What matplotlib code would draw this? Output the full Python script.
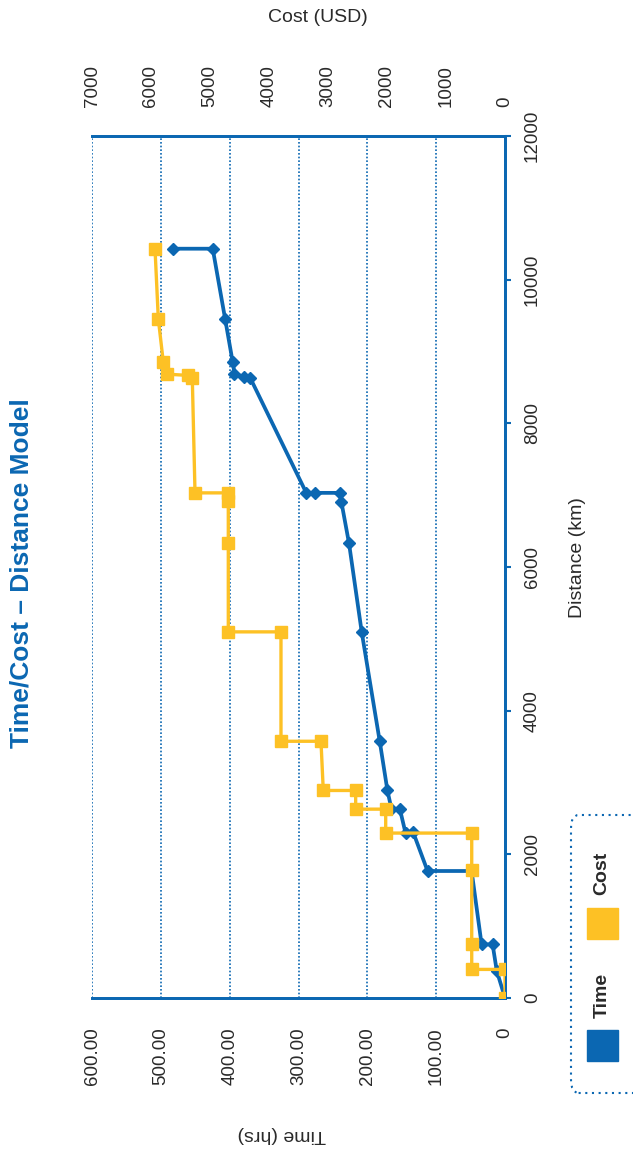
import matplotlib.pyplot as plt
from matplotlib.patches import FancyBboxPatch, Rectangle
from matplotlib.ticker import FuncFormatter

plt.rcParams['font.family'] = ['Liberation Sans', 'DejaVu Sans']

BLUE = '#0b67b2'
YELLOW = '#fdc125'
TXT = '#2a2a2a'

# distance (km) vs time (hrs)
time_dist = [0, 380, 746, 746, 1768, 1768, 2310, 2296, 2634, 2634, 2889, 3574,
             5097, 6329, 6907, 7032, 7032, 7032, 8630, 8649, 8685, 8847, 9454,
             10431, 10431]
time_hrs = [0, 12, 18, 34, 48.5, 112.5, 133.5, 144.5, 152.8, 165, 170.8, 182,
            208.2, 226.6, 237.7, 240.2, 276, 288.7, 370, 378.5, 393, 395.5,
            406.6, 424.6, 483]

# distance (km) vs cost (USD)
cost_dist = [0, 398, 398, 750, 1778, 2296, 2296, 2629, 2629, 2889, 2889, 3574,
             3574, 5097, 5097, 6329, 6917, 7032, 7032, 8630, 8667, 8685, 8847,
             9454, 10431]
cost_usd = [0, 0, 564, 564, 564, 564, 2022, 2022, 2531, 2531, 3080, 3119,
            3797, 3797, 4690, 4690, 4690, 4690, 5254, 5300, 5367, 5734, 5791,
            5876, 5932]

time_ticks = [0, 100, 200, 300, 400, 500, 600]
cost_ticks = [0, 1000, 2000, 3000, 4000, 5000, 6000, 7000]
dist_ticks = [0, 2000, 4000, 6000, 8000, 10000, 12000]

W, H = 633, 1151
fig = plt.figure(figsize=(W / 100, H / 100), dpi=100)

# chart is drawn turned a quarter turn: distance runs up, time/cost run right-to-left
ax = fig.add_axes([92 / W, 1 - 998 / H, (505 - 92) / W, (998 - 136) / H])
ax.plot(time_hrs, time_dist, color=BLUE, lw=2.7, marker='D', ms=6.5,
        mec=BLUE, zorder=3)
ax.set_xlim(600, 0)
ax.set_ylim(0, 12000)
ax.set_xticks(time_ticks)
ax.xaxis.set_major_formatter(FuncFormatter(lambda v, p: '0' if v == 0 else f'{v:.2f}'))
ax.tick_params(axis='x', length=0, pad=21, labelsize=13.5, labelrotation=90,
               labelcolor=TXT)
ax.set_yticks(dist_ticks)
ax.yaxis.tick_right()
ax.tick_params(axis='y', direction='out', length=4.5, width=1.5, color=BLUE,
               pad=9, labelsize=13.5, labelrotation=90, labelcolor=TXT)
for lab in ax.get_yticklabels():
    lab.set_va('center')
ax.grid(axis='x', linestyle=(0, (1, 1.2)), color=BLUE, lw=1.2)
ax.grid(axis='y', visible=False)
ax.spines['left'].set_visible(False)
for s in ['bottom', 'right', 'top']:
    ax.spines[s].set_color(BLUE)
    ax.spines[s].set_linewidth(2)

ax2 = ax.twiny()
ax2.plot(cost_usd, cost_dist, color=YELLOW, lw=2.4, marker='s', ms=8.3,
         mec=YELLOW, zorder=4)
ax2.set_xlim(7000, 0)
ax2.set_xticks(cost_ticks)
ax2.tick_params(axis='x', length=0, pad=21, labelsize=13.5, labelrotation=90,
                labelcolor=TXT)
ax2.spines['left'].set_visible(False)
for s in ['bottom', 'right', 'top']:
    ax2.spines[s].set_color(BLUE)
    ax2.spines[s].set_linewidth(2)

fig.text(22 / W, 1 - 573 / H, 'Time/Cost – Distance Model', rotation=90,
         ha='center', va='center', fontsize=19, fontweight='bold', color=BLUE)
fig.text(318 / W, 1 - 18 / H, 'Cost (USD)', ha='center', va='center',
         fontsize=14, color=TXT)
fig.text(282 / W, 1 - 1135 / H, 'Time (hrs)', rotation=180, ha='center',
         va='center', fontsize=14, color=TXT)
fig.text(578 / W, 1 - 558 / H, 'Distance (km)', rotation=90, ha='center',
         va='center', fontsize=14, color=TXT)

# legend, turned like the chart
box = FancyBboxPatch((571 / W, 1 - 1093 / H), 70 / W, (1093 - 815) / H,
                     boxstyle='round,pad=0,rounding_size=0.012',
                     transform=fig.transFigure, fill=False, ec=BLUE, lw=1.5,
                     ls=(0, (1, 2.2)))
fig.patches.append(box)
fig.patches.append(Rectangle((587 / W, 1 - 939 / H), 31 / W, 31 / H,
                             transform=fig.transFigure, color=YELLOW))
fig.patches.append(Rectangle((587 / W, 1 - 1061 / H), 31 / W, 31 / H,
                             transform=fig.transFigure, color=BLUE))
fig.text(602 / W, 1 - 873 / H, 'Cost', rotation=90, ha='center', va='center',
         fontsize=14, fontweight='bold', color=TXT)
fig.text(602 / W, 1 - 995 / H, 'Time', rotation=90, ha='center', va='center',
         fontsize=14, fontweight='bold', color=TXT)

fig.savefig('out.png', dpi=100)
